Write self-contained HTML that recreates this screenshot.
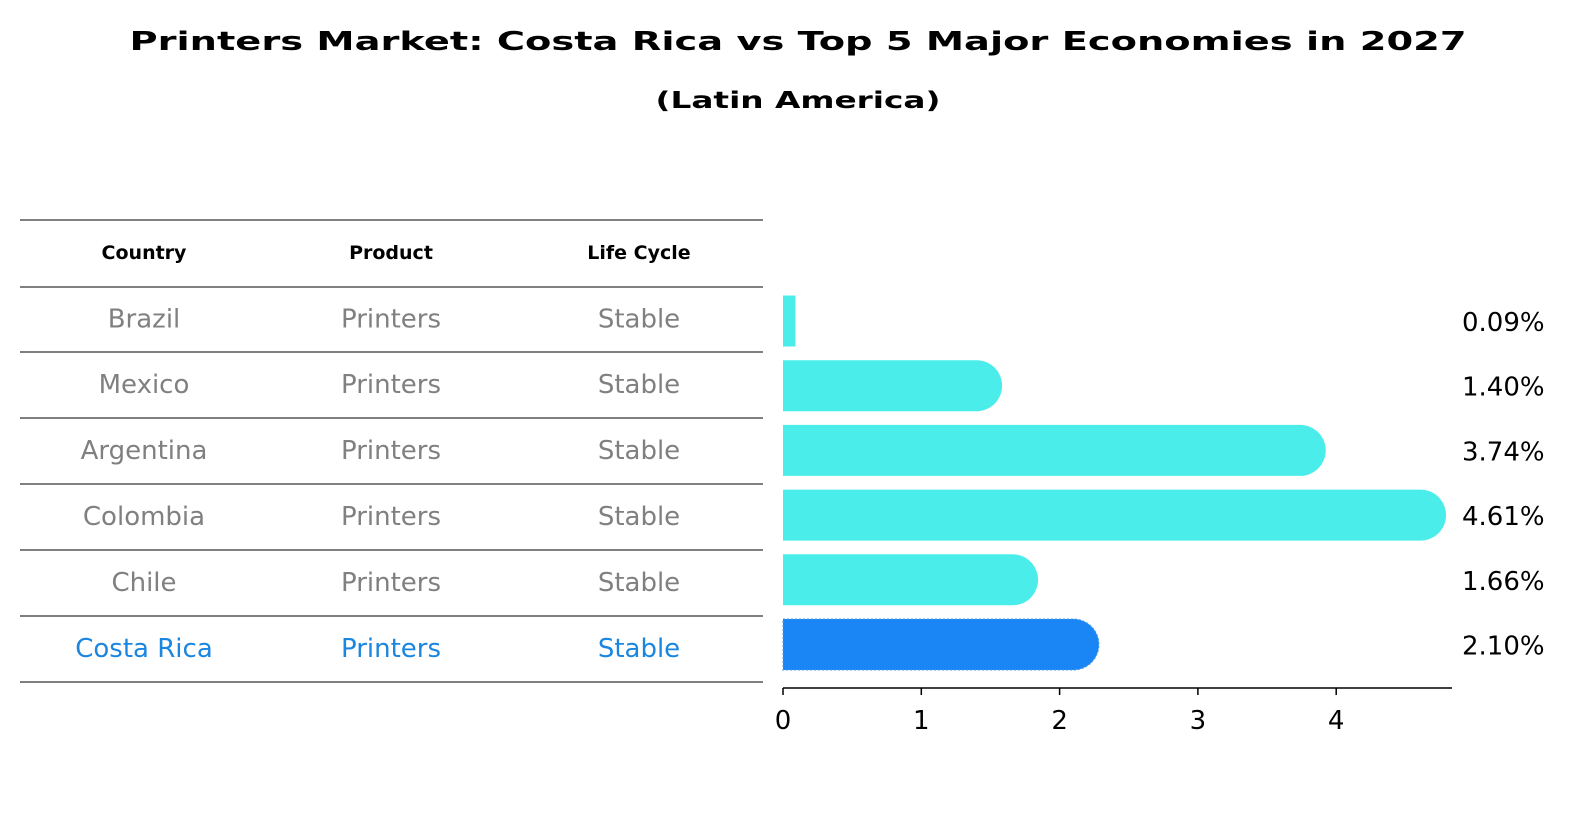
<!DOCTYPE html>
<html><head><meta charset="utf-8"><style>
html,body{margin:0;padding:0;background:#fff;width:1586px;height:823px;overflow:hidden}
svg{display:block}
</style></head><body>
<svg width="1586" height="823" viewBox="0 0 1586 823" id="svg" font-family="DejaVu Sans, Liberation Sans, sans-serif">
<text x="798" y="50" text-anchor="middle" font-size="26" font-weight="bold" textLength="1337" lengthAdjust="spacingAndGlyphs">Printers Market: Costa Rica vs Top 5 Major Economies in 2027</text>
<text x="798" y="108" text-anchor="middle" font-size="23" font-weight="bold" textLength="285" lengthAdjust="spacingAndGlyphs">(Latin America)</text>
<g id="table"></g>
<g id="bars"></g>
</svg>
<script>
const countries=["Brazil","Mexico","Argentina","Colombia","Chile","Costa Rica"];
const products=["Printers","Printers","Printers","Printers","Printers","Printers"];
const lifecycle=["Stable","Stable","Stable","Stable","Stable","Stable"];
const values=[0.09,1.40,3.74,4.61,1.66,2.10];
const ticks=[0,1,2,3,4];
const NS="http://www.w3.org/2000/svg";
function mk(t,a,p){const e=document.createElementNS(NS,t);for(const k in a)e.setAttribute(k,a[k]);p.appendChild(e);return e;}
const tb=document.getElementById('table'),bg=document.getElementById('bars');
const lines=[220,287,352,418,484,550,616,682];
lines.forEach(y=>{const l=mk('line',{x1:20,x2:763,y1:y,y2:y,stroke:'#000','stroke-width':1},tb);

});
const cx=[144,391,639];
["Country","Product","Life Cycle"].forEach((h,i)=>{const t=mk('text',{x:cx[i],y:259,'text-anchor':'middle','font-size':19,'font-weight':'bold'},tb);t.textContent=h;

});
const xs=v=>783+v*138.3;
const rowY=i=>321+i*64.7;
countries.forEach((c,i)=>{
 const hl=c==="Costa Rica";const col=hl?'#1a86e0':'#808080';
 [c,products[i],lifecycle[i]].forEach((s,j)=>{const t=mk('text',{x:cx[j],y:(lines[i+1]+lines[i+2])/2+8,'text-anchor':'middle','font-size':20*1.3,fill:col},tb);t.textContent=s;
 
 });
 const fill=hl?'#1a86f5':'#4bedea';const y=rowY(i),h=51;const x1=xs(values[i]);
 const b=mk('path',{fill:fill},bg);
 
 
 if(values[i]>0.5){b.setAttribute('d',`M783 ${y-h/2}H${x1}A${h/2} ${h/2} 0 0 1 ${x1} ${y+h/2}H783Z`);}
 else b.setAttribute('d',`M783 ${y-h/2}H${x1}V${y+h/2}H783Z`);
 if(hl){b.setAttribute('stroke','#4a9be8');b.setAttribute('stroke-dasharray','2 2');}
 const vt=mk('text',{x:1462,y:y+10,'font-size':20*1.3},bg);vt.textContent=values[i].toFixed(2)+'%';
 
 
});
const ax=mk('line',{x1:783,x2:1452,y1:688,y2:688,stroke:'#000','stroke-width':1.5},bg);


ticks.forEach(t=>{const l=mk('line',{x1:xs(t),x2:xs(t),y1:688,y2:695,stroke:'#000','stroke-width':1.5},bg);


const tx=mk('text',{x:xs(t),y:729,'text-anchor':'middle','font-size':20*1.3},bg);tx.textContent=t;

});
</script>
</body></html>
